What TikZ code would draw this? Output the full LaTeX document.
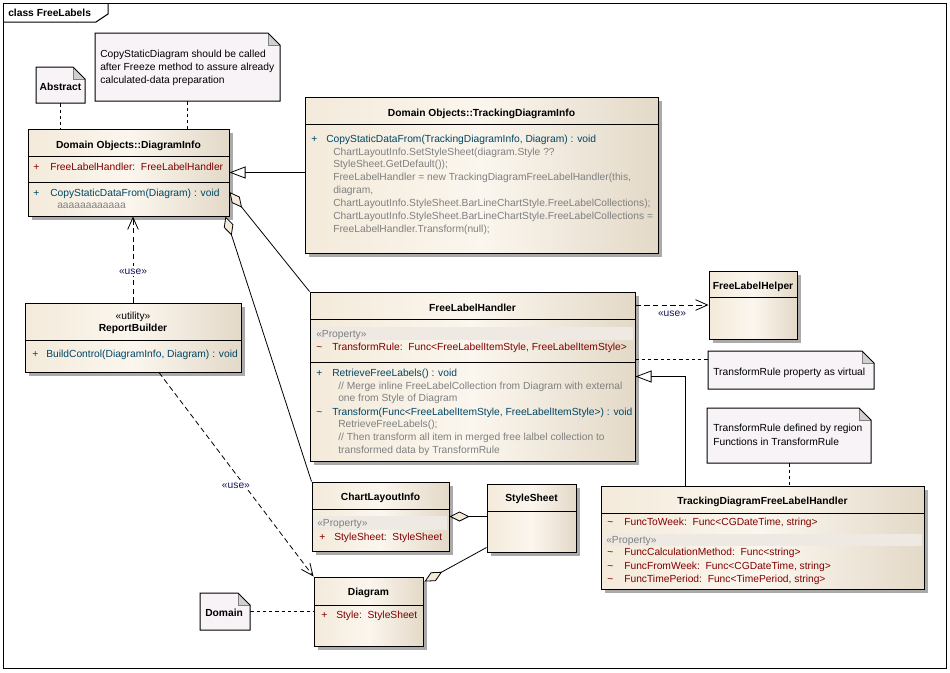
\documentclass[tikz,border=0pt]{standalone}
\usepackage{fontspec}
\setmainfont{Liberation Sans}
\usetikzlibrary{arrows.meta,calc,fit,shadows}
\definecolor{clsL}{RGB}{243,234,218}
\definecolor{clsM}{RGB}{251,246,238}
\definecolor{clsR}{RGB}{227,217,200}
\definecolor{notefill}{RGB}{247,243,247}
\definecolor{foldgray}{RGB}{208,208,208}
\definecolor{shadowc}{RGB}{170,170,170}
\definecolor{attrc}{RGB}{128,0,0}
\definecolor{opc}{RGB}{0,70,100}
\definecolor{grayt}{RGB}{128,128,128}
\definecolor{usec}{RGB}{20,20,90}
\definecolor{bandc}{RGB}{238,233,226}
\newcommand\fs{\fontsize{7.7}{9}\selectfont}
\newcommand\umlclass[5]{\node[cls, fit={(#2,#3) (#4,#5)}] (#1) {};}
\newcommand\umlnote[5]{%
  \fill[notefill] (#2,#3) -- (#4-12,#3) -- (#4,#3+12) -- (#4,#5) -- (#2,#5) -- cycle;
  \fill[foldgray] (#4-12,#3) -- (#4,#3+12) -- (#4-12,#3+12) -- cycle;
  \draw[line width=0.4pt, gray] (#4-12,#3) -- (#4-12,#3+12) -- (#4,#3+12);
  \draw[line width=0.75pt] (#2,#3) -- (#4-12,#3) -- (#4,#3+12) -- (#4,#5) -- (#2,#5) -- cycle;
  \node[fit={(#2,#3) (#4,#5)}, inner sep=0pt] (#1) {};}
\tikzset{
  cls/.style={draw=black, line width=0.75pt, left color=clsL, right color=clsR, middle color=clsM,
    inner sep=0pt, drop shadow={shadow xshift=3pt, shadow yshift=-3pt, fill=shadowc, opacity=1}},
  txt/.style={anchor=west, inner sep=0pt, text height=5.5pt, text depth=0pt, font=\fs},
  ttl/.style={anchor=center, inner sep=0pt, text height=5.5pt, text depth=0pt, font=\fs\bfseries},
  attrt/.style={txt, text=attrc},
  opt/.style={txt, text=opc},
  gt/.style={txt, text=grayt},
  sepl/.style={line width=0.75pt},
  band/.style={fill=bandc, draw=none},
  conn/.style={line width=0.6pt},
  notelink/.style={conn, dash pattern=on 2.5pt off 2.2pt},
  dep/.style={conn, dash pattern=on 4pt off 2.5pt, -{Straight Barb[length=9pt,width=8pt]}},
  gen/.style={conn, -{Triangle[length=12pt,width=9pt,fill=white]}},
  agg/.style={conn, -{Diamond[length=15pt,width=7.5pt,fill=clsL]}},
  uselbl/.style={inner sep=1pt, font=\fs, text=usec, text height=5.5pt, text depth=0pt},
}
\begin{document}
\begin{tikzpicture}[x=0.75pt,y=-0.75pt]
\useasboundingbox (0,0) rectangle (950,672);
\fill[white] (0,0) rectangle (950,672);
% frame
\draw[line width=0.75pt] (3,3) rectangle (946,668);
\draw[line width=0.75pt] (3,22) -- (96,22) -- (108,14) -- (108,3);
\node[txt, font=\fs\bfseries] (frametitle) at (8,13) {class FreeLabels};

% notes
\umlnote{nAbs}{36}{67}{85}{103}
\node[ttl] (tAbs) at (60.5,87) {Abstract};
\umlnote{nCopy}{95}{33}{280}{101}
\node[txt] (tCopy1) at (100,54) {CopyStaticDiagram should be called};
\node[txt] (tCopy2) at (100,67) {after Freeze method to assure already};
\node[txt] (tCopy3) at (100,80) {calculated-data preparation};
\umlnote{nTR1}{708}{351}{874}{389}
\node[txt] (tTR1) at (713,372) {TransformRule property as virtual};
\umlnote{nTR2}{707}{408}{871}{463}
\node[txt] (tTR2a) at (713,428) {TransformRule defined by region};
\node[txt] (tTR2b) at (713,442) {Functions in TransformRule};
\umlnote{nDom}{200}{593}{250}{630}
\node[txt, font=\fs\bfseries] (tDom) at (205,613) {Domain};

% DiagramInfo
\umlclass{dinfo}{28}{129}{229}{216}
\draw[sepl] (28,156) -- (229,156);
\draw[sepl] (28,182) -- (229,182);
\node[ttl] (dinfoT) at (128.5,145) {Domain Objects::DiagramInfo};
\node[attrt] (dinfoA1p) at (33,167) {+};
\node[attrt] (dinfoA1) at (50,167) {FreeLabelHandler:\ \ FreeLabelHandler};
\node[opt] (dinfoO1p) at (33,193) {+};
\node[opt] (dinfoO1) at (50,193) {CopyStaticDataFrom(Diagram) : void};
\node[gt] (dinfoN1) at (57,205) {aaaaaaaaaaaa};

% TrackingDiagramInfo
\umlclass{tdi}{305}{97}{658}{253}
\draw[sepl] (305,124) -- (658,124);
\node[ttl] (tdiT) at (481.5,113) {Domain Objects::TrackingDiagramInfo};
\node[opt] (tdiO1p) at (311,139) {+};
\node[opt] (tdiO1) at (326,139) {CopyStaticDataFrom(TrackingDiagramInfo, Diagram) : void};
\node[gt] (tdiN1) at (333,152) {ChartLayoutInfo.SetStyleSheet(diagram.Style ??};
\node[gt] (tdiN2) at (333,164) {StyleSheet.GetDefault());};
\node[gt] (tdiN3) at (333,177) {FreeLabelHandler = new TrackingDiagramFreeLabelHandler(this,};
\node[gt] (tdiN4) at (333,190) {diagram,};
\node[gt] (tdiN5) at (333,203) {ChartLayoutInfo.StyleSheet.BarLineChartStyle.FreeLabelCollections);};
\node[gt] (tdiN6) at (333,216) {ChartLayoutInfo.StyleSheet.BarLineChartStyle.FreeLabelCollections =};
\node[gt] (tdiN7) at (333,229) {FreeLabelHandler.Transform(null);};

% FreeLabelHandler
\umlclass{flh}{310}{292}{635}{461}
\draw[sepl] (310,319) -- (635,319);
\draw[sepl] (310,362) -- (635,362);
\fill[band] (312,327) rectangle (633,340);
\node[ttl] (flhT) at (472.5,308) {FreeLabelHandler};
\node[gt] (flhS) at (316,334) {«Property»};
\node[attrt] (flhA1p) at (316,347) {\textasciitilde};
\node[attrt] (flhA1) at (332,347) {TransformRule:\ \ Func<FreeLabelItemStyle, FreeLabelItemStyle>};
\node[opt] (flhO1p) at (316,373) {+};
\node[opt] (flhO1) at (332,373) {RetrieveFreeLabels() : void};
\node[gt] (flhN1) at (338,386) {// Merge inline FreeLabelCollection from Diagram with external};
\node[gt] (flhN2) at (338,398) {one from Style of Diagram};
\node[opt] (flhO2p) at (316,412) {\textasciitilde};
\node[opt] (flhO2) at (332,412) {Transform(Func<FreeLabelItemStyle, FreeLabelItemStyle>) : void};
\node[gt] (flhN3) at (338,424) {RetrieveFreeLabels();};
\node[gt] (flhN4) at (338,437) {// Then transform all item in merged free lalbel collection to};
\node[gt] (flhN5) at (338,450) {transformed data by TransformRule};

% ReportBuilder
\umlclass{rb}{25}{303}{241}{372}
\draw[sepl] (25,340) -- (241,340);
\node[ttl, font=\fs] (rbS) at (133,316) {«utility»};
\node[ttl] (rbT) at (133,328) {ReportBuilder};
\node[opt] (rbO1p) at (32,354) {+};
\node[opt] (rbO1) at (46,354) {BuildControl(DiagramInfo, Diagram) : void};

% FreeLabelHelper
\umlclass{flhp}{709}{271}{797}{339}
\draw[sepl] (709,297) -- (797,297);
\node[ttl] (flhpT) at (753,286) {FreeLabelHelper};

% ChartLayoutInfo
\umlclass{cli}{312}{482}{449}{551}
\draw[sepl] (312,509) -- (449,509);
\fill[band] (314,516) rectangle (447,530);
\node[ttl] (cliT) at (380.5,497) {ChartLayoutInfo};
\node[gt] (cliS) at (317,523) {«Property»};
\node[attrt] (cliA1p) at (319,537) {+};
\node[attrt] (cliA1) at (334,537) {StyleSheet:\ \ StyleSheet};

% StyleSheet
\umlclass{ss}{487}{484}{576}{552}
\draw[sepl] (487,511) -- (576,511);
\node[ttl] (ssT) at (531.5,498) {StyleSheet};

% Diagram
\umlclass{dg}{314}{577}{423}{646}
\draw[sepl] (314,605) -- (423,605);
\node[ttl] (dgT) at (368.5,592) {Diagram};
\node[attrt] (dgA1p) at (321,615) {+};
\node[attrt] (dgA1) at (336,615) {Style:\ \ StyleSheet};

% TrackingDiagramFreeLabelHandler
\umlclass{tdf}{601}{486}{924}{589}
\draw[sepl] (601,513) -- (924,513);
\fill[band] (603,534) rectangle (922,546);
\node[ttl] (tdfT) at (762.5,501) {TrackingDiagramFreeLabelHandler};
\node[attrt] (tdfA1p) at (607,522) {\textasciitilde};
\node[attrt] (tdfA1) at (624,522) {FuncToWeek:\ \ Func<CGDateTime, string>};
\node[gt] (tdfS) at (606,540) {«Property»};
\node[attrt] (tdfA2p) at (607,552) {\textasciitilde};
\node[attrt] (tdfA2) at (624,552) {FuncCalculationMethod:\ \ Func<string>};
\node[attrt] (tdfA3p) at (607,566) {\textasciitilde};
\node[attrt] (tdfA3) at (624,566) {FuncFromWeek:\ \ Func<CGDateTime, string>};
\node[attrt] (tdfA4p) at (607,579) {\textasciitilde};
\node[attrt] (tdfA4) at (624,579) {FuncTimePeriod:\ \ Func<TimePeriod, string>};

% connectors
\draw[notelink] (nAbs.south) -- (nAbs.south |- dinfo.north);
\draw[notelink] (nCopy.south) -- (nCopy.south |- dinfo.north);
\draw[gen] (tdi.west |- dinfo.east) -- (dinfo.east);
\draw[agg] (flh.north west) -- ($(dinfo.east)+(0,19.5)$);
\draw[agg] (cli.north west) -- ($(dinfo.south east)+(-4,0)$);
\draw[dep] (rb.north) -- (rb.north |- dinfo.south) node[pos=0.37, uselbl, fill=white] (u1) {«use»};
\draw[dep] ($(rb.south)+(26,0)$) -- (dg.north west) node[pos=0.55, xshift=-6pt, uselbl, fill=white] (u2) {«use»};
\draw[notelink] (nDom.east) -- (nDom.east -| dg.west);
\draw[agg] (ss.west |- cli.east) -- (cli.east);
\draw[agg] ($(ss.south west)+(0,-5)$) -- ($(dg.north east)+(1,5)$);
\draw[dep] (flh.east |- flhp.west) -- (flhp.west) node[pos=0.5, below=2pt, uselbl] (u3) {«use»};
\coordinate (c1) at ($(nTR1.north west)+(0,9)$);
\draw[notelink] (c1) -- (c1 -| flh.east);
\coordinate (c2) at ($(tdf.north west)+(85,0)$);
\draw[gen] (c2) |- (flh.east);
\draw[notelink] (nTR2.south) -- (nTR2.south |- tdf.north);
\end{tikzpicture}
\end{document}
